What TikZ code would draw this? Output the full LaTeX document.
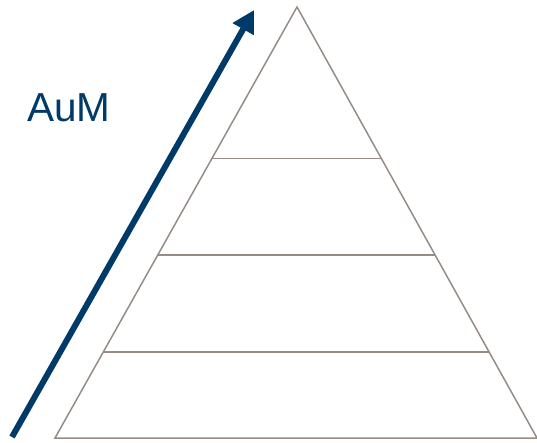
\documentclass[tikz,border=0pt]{standalone}
\usepackage{fontspec}
\setmainfont{Liberation Sans}
\usetikzlibrary{arrows.meta}
\definecolor{navy}{HTML}{003A68}
\definecolor{pyr}{HTML}{968C85}
\tikzset{
  pyrline/.style={draw=pyr, line width=1.5pt, line join=miter},
  growarrow/.style={draw=navy, line width=6pt, -{Triangle[length=22pt,width=23pt]}},
  label/.style={text=navy, font=\fontsize{40.5pt}{44pt}\selectfont, inner sep=0pt, anchor=base west}
}
\begin{document}
\begin{tikzpicture}[x=1pt,y=-1pt]
\useasboundingbox (0,0) rectangle (537,443);
% pyramid
\coordinate (apex) at (297,7);
\coordinate (bl) at (55,438);
\coordinate (br) at (537,438);
\draw[pyrline] (bl) -- (apex) -- (br) -- cycle;
\foreach \y/\n in {158.5/a,255/b,352/c}{
  \path (apex) -- (bl) coordinate[pos={(\y-7)/431}] (l\n);
  \path (apex) -- (br) coordinate[pos={(\y-7)/431}] (r\n);
  \draw[pyrline] (l\n) -- (r\n);
}
% arrow
\coordinate (tail) at (12,437);
\coordinate (tip) at (254,10);
\draw[growarrow] (tail) -- (tip);
\node[label] (aum) at (27,122) {AuM};
\end{tikzpicture}
\end{document}
